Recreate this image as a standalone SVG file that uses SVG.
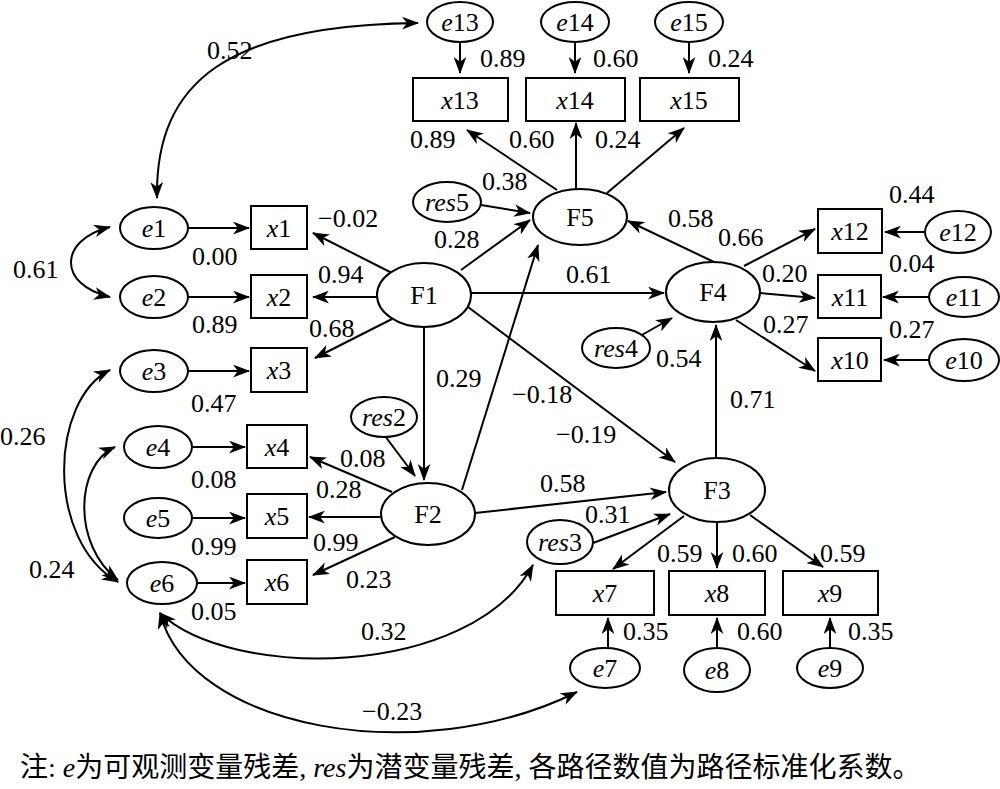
<svg xmlns="http://www.w3.org/2000/svg" width="1000" height="789" viewBox="0 0 1000 789" font-family="'Liberation Serif', 'Times New Roman', 'Noto Sans CJK SC', serif">
<style>
text{font-size:26px;fill:#000}
.n{text-anchor:middle}
.i{font-style:italic}
.nd ellipse,.nd rect{fill:#fff;stroke:#000;stroke-width:2}
#conn line,#conn path{stroke:#000;stroke-width:2;fill:none;marker-end:url(#a)}
#conn .d{marker-start:url(#a)}
.cap{font-size:28px}
</style>
<defs>
<marker id="a" viewBox="0 0 16 12" refX="15" refY="6" markerWidth="17" markerHeight="13" orient="auto-start-reverse" markerUnits="userSpaceOnUse"><path d="M0,0 L16,6 L0,12 L4.5,6 z" fill="#000"/></marker>
</defs>
<g id="conn">
<line x1="392" y1="273" x2="313" y2="233"/>
<line x1="377" y1="297" x2="313" y2="297"/>
<line x1="392" y1="319" x2="315" y2="358"/>
<line x1="461" y1="270" x2="530" y2="220"/>
<line x1="471" y1="293" x2="664" y2="293"/>
<line x1="424" y1="327" x2="424" y2="480"/>
<line x1="468" y1="307" x2="675" y2="462"/>
<line x1="392" y1="492" x2="310" y2="457"/>
<line x1="380" y1="517" x2="309" y2="517"/>
<line x1="395" y1="537" x2="313" y2="575"/>
<line x1="462" y1="490" x2="538" y2="245"/>
<line x1="475" y1="513" x2="666" y2="492"/>
<line x1="385" y1="436" x2="415" y2="476"/>
<line x1="557" y1="190" x2="467" y2="130"/>
<line x1="576" y1="189" x2="576" y2="123"/>
<line x1="607" y1="193" x2="684" y2="128"/>
<line x1="481" y1="205" x2="530" y2="213"/>
<line x1="714" y1="262" x2="628" y2="221"/>
<line x1="744" y1="266" x2="815" y2="229"/>
<line x1="760" y1="293" x2="815" y2="298"/>
<line x1="736" y1="320" x2="815" y2="371"/>
<line x1="640" y1="336" x2="672" y2="318"/>
<line x1="716" y1="458" x2="716" y2="325"/>
<line x1="684" y1="516" x2="613" y2="569"/>
<line x1="717" y1="522" x2="717" y2="568"/>
<line x1="750" y1="515" x2="823" y2="567"/>
<line x1="593" y1="543" x2="670" y2="514"/>
<line x1="188" y1="228" x2="249" y2="228"/>
<line x1="188" y1="297" x2="249" y2="297"/>
<line x1="188" y1="371" x2="249" y2="371"/>
<line x1="192" y1="447" x2="245" y2="447"/>
<line x1="192" y1="518" x2="245" y2="518"/>
<line x1="197" y1="583" x2="245" y2="583"/>
<line x1="460" y1="42" x2="460" y2="73"/>
<line x1="575" y1="42" x2="575" y2="73"/>
<line x1="689" y1="42" x2="689" y2="73"/>
<line x1="925" y1="232" x2="885" y2="232"/>
<line x1="929" y1="297" x2="883" y2="297"/>
<line x1="929" y1="360" x2="884" y2="360"/>
<line x1="608" y1="648" x2="608" y2="618"/>
<line x1="717" y1="648" x2="717" y2="618"/>
<line x1="830" y1="648" x2="830" y2="618"/>
<path class="d" d="M157,198 C155,80 230,25 418,23"/>
<path class="d" d="M110,227 C58,240 58,285 110,297"/>
<path class="d" d="M110,370 C50,400 45,540 118,582"/>
<path class="d" d="M115,447 C75,465 72,545 118,580"/>
<path class="d" d="M160,613 C230,680 470,680 533,565"/>
<path class="d" d="M160,613 C190,730 420,770 577,692"/>
</g>
<g id="F1" class="nd"><ellipse cx="424" cy="295" rx="47" ry="32"/><text class="n" x="424" y="304">F1</text></g>
<g id="F2" class="nd"><ellipse cx="428" cy="514" rx="47" ry="31"/><text class="n" x="428" y="523">F2</text></g>
<g id="F3" class="nd"><ellipse cx="717" cy="490" rx="48" ry="32"/><text class="n" x="717" y="499">F3</text></g>
<g id="F4" class="nd"><ellipse cx="713" cy="292" rx="47" ry="30"/><text class="n" x="713" y="301">F4</text></g>
<g id="F5" class="nd"><ellipse cx="580" cy="217" rx="47" ry="28"/><text class="n" x="580" y="226">F5</text></g>
<g id="res2" class="nd"><ellipse cx="384" cy="417" rx="33" ry="20"/><text class="n" x="384" y="426"><tspan class="i">res</tspan>2</text></g>
<g id="res3" class="nd"><ellipse cx="560" cy="542" rx="33" ry="22"/><text class="n" x="560" y="551"><tspan class="i">res</tspan>3</text></g>
<g id="res4" class="nd"><ellipse cx="616" cy="348" rx="34" ry="20"/><text class="n" x="616" y="357"><tspan class="i">res</tspan>4</text></g>
<g id="res5" class="nd"><ellipse cx="447" cy="202" rx="34" ry="20"/><text class="n" x="447" y="211"><tspan class="i">res</tspan>5</text></g>
<g id="x1" class="nd"><rect x="251" y="206" width="56" height="43"/><text class="n" x="279" y="237"><tspan class="i">x</tspan>1</text></g>
<g id="x2" class="nd"><rect x="251" y="275" width="56" height="43"/><text class="n" x="279" y="306"><tspan class="i">x</tspan>2</text></g>
<g id="x3" class="nd"><rect x="251" y="348" width="56" height="44"/><text class="n" x="279" y="379"><tspan class="i">x</tspan>3</text></g>
<g id="x4" class="nd"><rect x="247" y="425" width="60" height="43"/><text class="n" x="277" y="456"><tspan class="i">x</tspan>4</text></g>
<g id="x5" class="nd"><rect x="247" y="494" width="60" height="44"/><text class="n" x="277" y="525"><tspan class="i">x</tspan>5</text></g>
<g id="x6" class="nd"><rect x="247" y="560" width="60" height="44"/><text class="n" x="277" y="591"><tspan class="i">x</tspan>6</text></g>
<g id="x7" class="nd"><rect x="556" y="571" width="98" height="44"/><text class="n" x="605" y="602"><tspan class="i">x</tspan>7</text></g>
<g id="x8" class="nd"><rect x="669" y="571" width="96" height="44"/><text class="n" x="717" y="602"><tspan class="i">x</tspan>8</text></g>
<g id="x9" class="nd"><rect x="783" y="571" width="95" height="44"/><text class="n" x="830" y="602"><tspan class="i">x</tspan>9</text></g>
<g id="x10" class="nd"><rect x="818" y="338" width="63" height="43"/><text class="n" x="850" y="369"><tspan class="i">x</tspan>10</text></g>
<g id="x11" class="nd"><rect x="818" y="275" width="63" height="43"/><text class="n" x="850" y="306"><tspan class="i">x</tspan>11</text></g>
<g id="x12" class="nd"><rect x="818" y="209" width="64" height="44"/><text class="n" x="850" y="240"><tspan class="i">x</tspan>12</text></g>
<g id="x13" class="nd"><rect x="413" y="78" width="95" height="43"/><text class="n" x="460" y="109"><tspan class="i">x</tspan>13</text></g>
<g id="x14" class="nd"><rect x="526" y="78" width="99" height="43"/><text class="n" x="575" y="109"><tspan class="i">x</tspan>14</text></g>
<g id="x15" class="nd"><rect x="640" y="78" width="99" height="43"/><text class="n" x="689" y="109"><tspan class="i">x</tspan>15</text></g>
<g id="e1" class="nd"><ellipse cx="154" cy="228" rx="34" ry="21"/><text class="n" x="154" y="237"><tspan class="i">e</tspan>1</text></g>
<g id="e2" class="nd"><ellipse cx="154" cy="297" rx="34" ry="21"/><text class="n" x="154" y="306"><tspan class="i">e</tspan>2</text></g>
<g id="e3" class="nd"><ellipse cx="154" cy="371" rx="34" ry="21"/><text class="n" x="154" y="380"><tspan class="i">e</tspan>3</text></g>
<g id="e4" class="nd"><ellipse cx="158" cy="447" rx="34" ry="21"/><text class="n" x="158" y="456"><tspan class="i">e</tspan>4</text></g>
<g id="e5" class="nd"><ellipse cx="158" cy="518" rx="34" ry="20"/><text class="n" x="158" y="527"><tspan class="i">e</tspan>5</text></g>
<g id="e6" class="nd"><ellipse cx="162" cy="583" rx="35" ry="21"/><text class="n" x="162" y="592"><tspan class="i">e</tspan>6</text></g>
<g id="e7" class="nd"><ellipse cx="605" cy="668" rx="35" ry="20"/><text class="n" x="605" y="677"><tspan class="i">e</tspan>7</text></g>
<g id="e8" class="nd"><ellipse cx="717" cy="670" rx="33" ry="22"/><text class="n" x="717" y="679"><tspan class="i">e</tspan>8</text></g>
<g id="e9" class="nd"><ellipse cx="830" cy="668" rx="33" ry="20"/><text class="n" x="830" y="677"><tspan class="i">e</tspan>9</text></g>
<g id="e10" class="nd"><ellipse cx="964" cy="360" rx="35" ry="21"/><text class="n" x="964" y="369"><tspan class="i">e</tspan>10</text></g>
<g id="e11" class="nd"><ellipse cx="964" cy="297" rx="35" ry="20"/><text class="n" x="964" y="306"><tspan class="i">e</tspan>11</text></g>
<g id="e12" class="nd"><ellipse cx="958" cy="232" rx="33" ry="21"/><text class="n" x="958" y="241"><tspan class="i">e</tspan>12</text></g>
<g id="e13" class="nd"><ellipse cx="460" cy="22" rx="33" ry="20"/><text class="n" x="460" y="31"><tspan class="i">e</tspan>13</text></g>
<g id="e14" class="nd"><ellipse cx="575" cy="22" rx="34" ry="20"/><text class="n" x="575" y="31"><tspan class="i">e</tspan>14</text></g>
<g id="e15" class="nd"><ellipse cx="689" cy="22" rx="34" ry="20"/><text class="n" x="689" y="31"><tspan class="i">e</tspan>15</text></g>
<g id="labels">
<text x="207" y="59">0.52</text>
<text x="480" y="67">0.89</text>
<text x="593" y="67">0.60</text>
<text x="708" y="67">0.24</text>
<text x="410" y="148">0.89</text>
<text x="509" y="148">0.60</text>
<text x="595" y="148">0.24</text>
<text x="482" y="190">0.38</text>
<text x="434" y="248">0.28</text>
<text x="318" y="227">−0.02</text>
<text x="318" y="283">0.94</text>
<text x="309" y="337">0.68</text>
<text x="192" y="265">0.00</text>
<text x="192" y="333">0.89</text>
<text x="13" y="278">0.61</text>
<text x="668" y="227">0.58</text>
<text x="718" y="246">0.66</text>
<text x="889" y="203">0.44</text>
<text x="566" y="283">0.61</text>
<text x="762" y="282">0.20</text>
<text x="889" y="272">0.04</text>
<text x="763" y="333">0.27</text>
<text x="889" y="338">0.27</text>
<text x="656" y="367">0.54</text>
<text x="436" y="387">0.29</text>
<text x="191" y="412">0.47</text>
<text x="0" y="445">0.26</text>
<text x="512" y="403">−0.18</text>
<text x="730" y="408">0.71</text>
<text x="556" y="443">−0.19</text>
<text x="340" y="467">0.08</text>
<text x="191" y="488">0.08</text>
<text x="540" y="492">0.58</text>
<text x="316" y="498">0.28</text>
<text x="585" y="523">0.31</text>
<text x="313" y="551">0.99</text>
<text x="191" y="555">0.99</text>
<text x="657" y="562">0.59</text>
<text x="732" y="562">0.60</text>
<text x="820" y="562">0.59</text>
<text x="29" y="578">0.24</text>
<text x="346" y="588">0.23</text>
<text x="191" y="620">0.05</text>
<text x="623" y="640">0.35</text>
<text x="737" y="640">0.60</text>
<text x="848" y="640">0.35</text>
<text x="361" y="640">0.32</text>
<text x="362" y="720">−0.23</text>
</g>
<text class="cap" x="20" y="777">注: <tspan class="i">e</tspan>为可观测变量残差, <tspan class="i">res</tspan>为潜变量残差, 各路径数值为路径标准化系数。</text>
</svg>
